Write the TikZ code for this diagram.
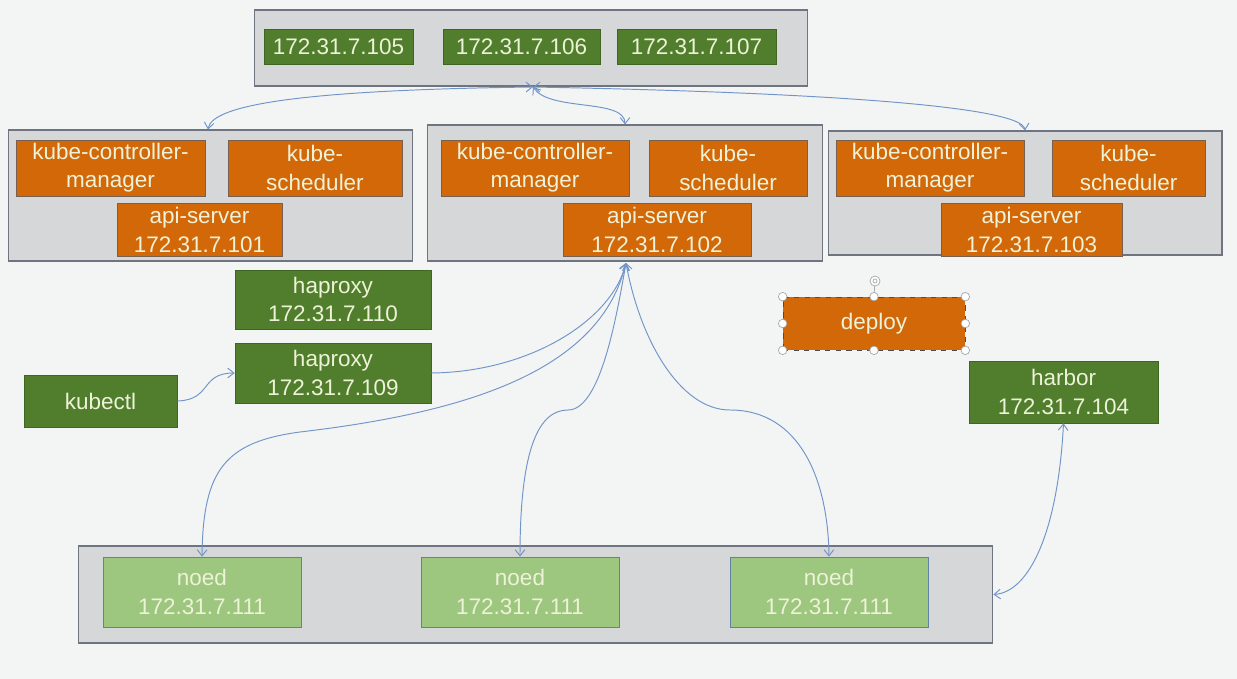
\documentclass[tikz,border=0pt]{standalone}
\usepackage{fontspec}
\setmainfont{Liberation Sans}
\usepackage{tikz}
\usetikzlibrary{positioning, arrows.meta}

\definecolor{bgcol}{RGB}{243,245,244}
\definecolor{groupgray}{RGB}{214,215,216}
\definecolor{groupline}{RGB}{110,116,128}
\definecolor{kubeorange}{RGB}{210,104,8}
\definecolor{orangeline}{RGB}{120,96,80}
\definecolor{darkgreen}{RGB}{80,126,44}
\definecolor{lightgreen}{RGB}{157,198,126}
\definecolor{nodeline}{RGB}{96,130,166}
\definecolor{lighttext}{RGB}{238,242,216}
\definecolor{linkblue}{RGB}{114,149,201}

\begin{document}
\begin{tikzpicture}[
			x=0.02cm, y=-0.02cm,
			>={Straight Barb[length=3.5pt,width=5.5pt]},
			font=\fontsize{12.8}{16}\selectfont,
			group/.style={draw=groupline, fill=groupgray, rectangle, inner sep=0pt, line width=0.6pt},
			orangebox/.style={draw=orangeline, fill=kubeorange, rectangle, text=lighttext, align=center, inner sep=0pt, minimum height=1.12cm},
			apibox/.style={orangebox, minimum height=1.06cm},
			greenbox/.style={draw=darkgreen!80!black, fill=darkgreen, rectangle, text=lighttext, align=center, inner sep=0pt},
			noedbox/.style={draw=nodeline, fill=lightgreen, rectangle, text=lighttext, align=center, inner sep=0pt, minimum width=3.96cm, minimum height=1.4cm},
			link/.style={draw=linkblue, line width=0.55pt},
			handle/.style={circle, draw=gray!70, fill=white, inner sep=0pt, minimum size=0.17cm, line width=0.4pt}
		]
		\fill[bgcol] (0,0) rectangle (1237,679);
		\useasboundingbox (0,0) rectangle (1237,679);

		% etcd
		\node[group, minimum width=11.08cm, minimum height=1.52cm] (etcd) at (531,48) {};
		\node[greenbox, minimum width=2.98cm, minimum height=0.7cm] (etcd105) at (338.5,46.5) {172.31.7.105};
		\node[greenbox, minimum width=3.14cm, minimum height=0.7cm] (etcd106) at (521.5,46.5) {172.31.7.106};
		\node[greenbox, minimum width=3.18cm, minimum height=0.7cm] (etcd107) at (696.5,46.5) {172.31.7.107};
		\coordinate (etcdport) at (533,87);

		% masters
		\node[group, minimum width=8.1cm, minimum height=2.62cm] (master1) at (210.5,195.5) {};
		\node[orangebox, minimum width=3.78cm] (ctrl1) at (110.5,168) {kube-controller-\\manager};
		\node[orangebox, minimum width=3.48cm] (sched1) at (315,168) {kube-\\scheduler};
		\node[apibox, minimum width=3.3cm] (api1) at (199.5,230) {api-server\\172.31.7.101};

		\node[group, minimum width=7.92cm, minimum height=2.72cm] (master2) at (625,193) {};
		\node[orangebox, minimum width=3.76cm] (ctrl2) at (535,168) {kube-controller-\\manager};
		\node[orangebox, minimum width=3.16cm] (sched2) at (728,168) {kube-\\scheduler};
		\node[apibox, minimum width=3.76cm] (api2) at (657,230) {api-server\\172.31.7.102};
		\coordinate (apiport) at (626,263);

		\node[group, minimum width=7.88cm, minimum height=2.48cm] (master3) at (1025,193) {};
		\node[orangebox, minimum width=3.76cm] (ctrl3) at (930,168) {kube-controller-\\manager};
		\node[orangebox, minimum width=3.06cm] (sched3) at (1128.5,168) {kube-\\scheduler};
		\node[apibox, minimum width=3.62cm] (api3) at (1031.5,230) {api-server\\172.31.7.103};

		% load balancers, client
		\node[greenbox, minimum width=3.92cm, minimum height=1.18cm] (haproxyA) at (333,299.5) {haproxy\\172.31.7.110};
		\node[greenbox, minimum width=3.92cm, minimum height=1.2cm] (haproxyB) at (333,373) {haproxy\\172.31.7.109};
		\node[greenbox, minimum width=3.06cm, minimum height=1.04cm] (kubectl) at (100.5,401) {kubectl};

		% deploy (selected)
		\node[draw=black!70, dashed, fill=kubeorange, text=lighttext, inner sep=0pt, minimum width=3.64cm, minimum height=1.06cm] (deploy) at (874,323.5) {deploy};
		\coordinate (rot) at (875,281);
		\draw[gray!70, line width=0.4pt] (rot) -- (deploy.north);
		\node[handle, minimum size=0.2cm] at (rot) {};
		\node[circle, draw=gray!70, inner sep=0pt, minimum size=0.08cm] at (rot) {};
		\foreach \a in {north west, north, north east, west, east, south west, south, south east}
			\node[handle] at (deploy.\a) {};

		\node[greenbox, minimum width=3.78cm, minimum height=1.24cm] (harbor) at (1063.5,392) {harbor\\172.31.7.104};

		% worker nodes
		\node[group, minimum width=18.3cm, minimum height=1.94cm] (workers) at (535.5,594.5) {};
		\node[noedbox] (noed1) at (202,592) {noed\\172.31.7.111};
		\node[noedbox] (noed2) at (520,592) {noed\\172.31.7.111};
		\node[noedbox] (noed3) at (829,592) {noed\\172.31.7.111};

		% connectors
		\draw[link, <->] (etcdport) .. controls (300,90) and (212,105) .. (master1.north -| 208,0);
		\draw[link, <->] (etcdport) .. controls (550,112) and (625,98) .. (master2.north);
		\draw[link, <->] (etcdport) .. controls (800,92) and (1022,105) .. (master3.north);

		\draw[link, ->] (kubectl.east) .. controls (212,400) and (200,373) .. (haproxyB.west);
		\draw[link, ->] (haproxyB.east) .. controls (530,372) and (612,320) .. (apiport);
		\draw[link, <->] (noed1.north) .. controls (203,470) and (225,442) .. (300,432) .. controls (470,412) and (600,370) .. (apiport);
		\draw[link, <->] (noed2.north) .. controls (520,445) and (540,410) .. (568,410) .. controls (600,410) and (616,320) .. (apiport);
		\draw[link, <->] (noed3.north) .. controls (828,480) and (800,410) .. (730,410) .. controls (680,410) and (640,340) .. (apiport);
		\draw[link, <->] (harbor.south) .. controls (1058,530) and (1030,592) .. (workers.east);
	\end{tikzpicture}
\end{document}
